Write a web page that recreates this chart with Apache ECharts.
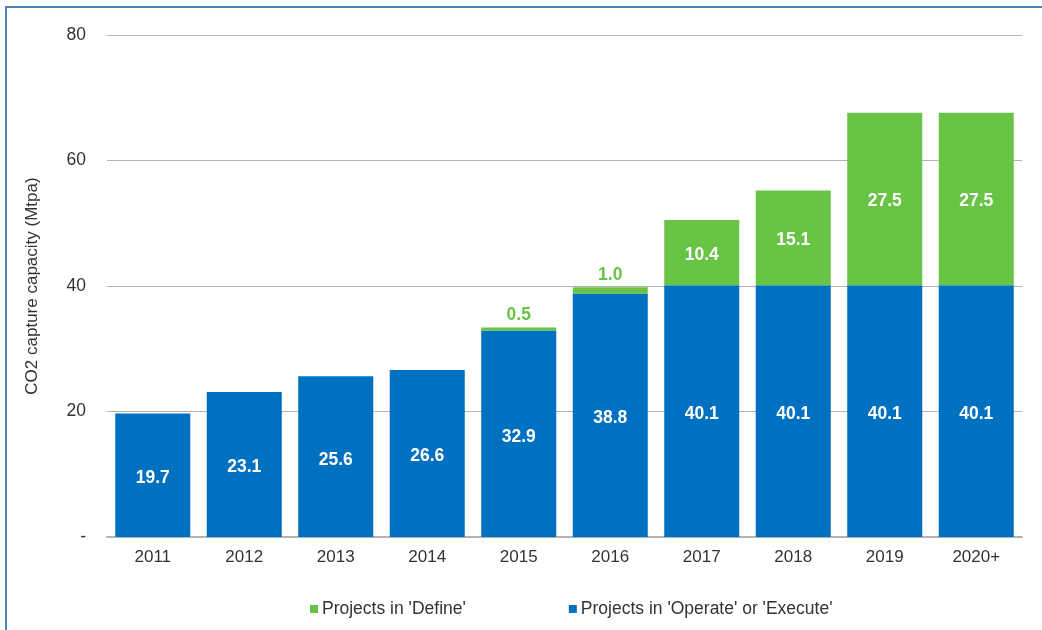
<!DOCTYPE html>
<html><head><meta charset="utf-8">
<script src="https://cdn.jsdelivr.net/npm/echarts@6/dist/echarts.min.js"></script>
<style>html,body{margin:0;padding:0;background:#fff}#c{width:1042px;height:630px}</style>
</head><body><div id="c"></div>
<script>
const categories = ['2011','2012','2013','2014','2015','2016','2017','2018','2019','2020+'];
const operateExecute = [19.7, 23.1, 25.6, 26.6, 32.9, 38.8, 40.1, 40.1, 40.1, 40.1];
const define = [0, 0, 0, 0, 0.5, 1.0, 10.4, 15.1, 27.5, 27.5];
const yTicks = [0, 20, 40, 60, 80];

const BLUE = '#0070C0', GREEN = '#68C444';
const FONT = '"Liberation Sans", Arial, sans-serif';
const LBL = 17.5;

const chart = echarts.init(document.getElementById('c'), null, {renderer:'canvas'});
chart.setOption({
  animation: false,
  textStyle: {fontFamily: FONT},
  graphic: [{
    type: 'rect', shape: {x: 6, y: 7, width: 1100, height: 700},
    style: {fill: 'none', stroke: '#4F81BD', lineWidth: 2}, silent: true
  }],
  grid: {left: 107, right: 20, top: 35, bottom: 93, containLabel: false},
  legend: {
    top: 595, left: 305, itemGap: 103, itemWidth: 8, itemHeight: 8, icon: 'rect',
    textStyle: {fontFamily: FONT, fontSize: 17.5, color: '#333', padding: [0, 0, 0, -1]},
    data: ["Projects in 'Define'", "Projects in 'Operate' or 'Execute'"]
  },
  xAxis: {
    type: 'category', data: categories,
    axisLine: {lineStyle: {color: '#b3b3b3', width: 2}},
    axisTick: {show: false},
    axisLabel: {fontFamily: FONT, fontSize: 17, color: '#333', margin: 12}
  },
  yAxis: {
    type: 'value', min: 0, max: 80, interval: 20,
    name: 'CO2 capture capacity (Mtpa)', nameLocation: 'middle', nameGap: 66,
    nameTextStyle: {fontFamily: FONT, fontSize: 17, color: '#333'},
    axisLine: {show: false}, axisTick: {show: false},
    axisLabel: {fontFamily: FONT, fontSize: 17.5, color: '#333', margin: 21,
      formatter: v => yTicks.indexOf(v) >= 0 ? (v === 0 ? '-' : String(v)) : ''},
    splitLine: {lineStyle: {color: '#b3b3b3', width: 1}}
  },
  series: [
    {
      name: "Projects in 'Operate' or 'Execute'", type: 'bar', stack: 's',
      barCategoryGap: '18%', itemStyle: {color: BLUE},
      label: {show: true, position: 'inside', offset: [0, 3], color: '#fff', fontWeight: 'bold', fontSize: LBL, fontFamily: FONT,
        formatter: p => p.value.toFixed(1)},
      data: operateExecute
    },
    {
      name: "Projects in 'Define'", type: 'bar', stack: 's',
      barCategoryGap: '18%', itemStyle: {color: GREEN},
      data: define.map(v => {
        if (v === 0) return {value: v, label: {show: false}};
        if (v < 5) return {value: v, label: {show: true, position: 'top', distance: 3, color: GREEN, fontWeight: 'bold', fontSize: LBL, fontFamily: FONT, formatter: p => p.value.toFixed(1)}};
        return {value: v, label: {show: true, position: 'inside', offset: [0, 2], color: '#fff', fontWeight: 'bold', fontSize: LBL, fontFamily: FONT, formatter: p => p.value.toFixed(1)}};
      })
    }
  ]
});
</script></body></html>
